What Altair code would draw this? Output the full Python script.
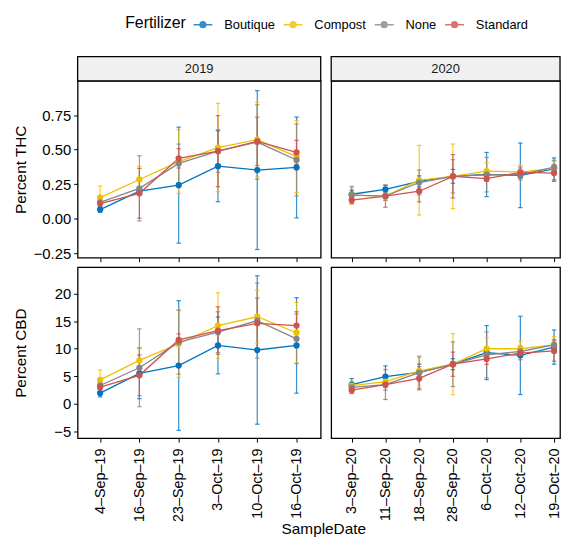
import altair as alt
import pandas as pd

FONT = "Liberation Sans"

fertilizers = ["Boutique", "Compost", "None", "Standard"]
fert_colors = ["#0073C2", "#EFC000", "#868686", "#CD534C"]
years = ["2019", "2020"]
dates_2019 = ["4–Sep–19", "16–Sep–19", "23–Sep–19", "3–Oct–19", "10–Oct–19", "16–Oct–19"]
dates_2020 = ["3–Sep–20", "11–Sep–20", "18–Sep–20", "28–Sep–20", "6–Oct–20", "12–Oct–20", "19–Oct–20"]

thc_2019_mean = {
    "Boutique": [0.066, 0.20, 0.243, 0.38, 0.352, 0.371],
    "Compost": [0.153, 0.284, 0.413, 0.515, 0.572, 0.449],
    "None": [0.118, 0.22, 0.40, 0.49, 0.555, 0.425],
    "Standard": [0.11, 0.184, 0.437, 0.489, 0.56, 0.48],
}
thc_2019_err = {
    "Boutique": [0.02, 0.03, 0.42, 0.257, 0.575, 0.365],
    "Compost": [0.083, 0.094, 0.23, 0.32, 0.27, 0.26],
    "None": [0.03, 0.236, 0.14, 0.154, 0.27, 0.26],
    "Standard": [0.03, 0.18, 0.07, 0.257, 0.175, 0.087],
}
thc_2020_mean = {
    "Boutique": [0.177, 0.213, 0.27, 0.307, 0.32, 0.314, 0.36],
    "Compost": [0.17, 0.163, 0.279, 0.307, 0.345, 0.338, 0.365],
    "None": [0.17, 0.163, 0.262, 0.307, 0.319, 0.32, 0.373],
    "Standard": [0.135, 0.163, 0.199, 0.307, 0.29, 0.335, 0.33],
}
thc_2020_err = {
    "Boutique": [0.03, 0.03, 0.04, 0.05, 0.16, 0.234, 0.08],
    "Compost": [0.065, 0.03, 0.252, 0.234, 0.06, 0.05, 0.05],
    "None": [0.06, 0.03, 0.09, 0.12, 0.125, 0.04, 0.05],
    "Standard": [0.02, 0.08, 0.077, 0.157, 0.02, 0.04, 0.06],
}
cbd_2019_mean = {
    "Boutique": [1.97, 5.54, 6.96, 10.6, 9.77, 10.6],
    "Compost": [4.35, 7.9, 10.9, 14.2, 15.8, 12.9],
    "None": [3.34, 6.55, 11.2, 13.0, 15.1, 11.8],
    "Standard": [3.04, 5.18, 11.6, 13.3, 14.6, 14.2],
}
cbd_2019_err = {
    "Boutique": [0.7, 4.6, 11.75, 5.15, 13.45, 8.65],
    "Compost": [1.8, 2.2, 6.1, 5.95, 4.8, 5.5],
    "None": [0.5, 7.05, 5.8, 3.7, 6.8, 4.5],
    "Standard": [0.9, 3.7, 1.1, 4.3, 4.6, 2.5],
}
cbd_2020_mean = {
    "Boutique": [3.5, 4.95, 5.7, 7.2, 9.3, 8.8, 10.3],
    "Compost": [3.3, 4.05, 6.0, 7.2, 10.0, 10.0, 10.7],
    "None": [3.0, 3.5, 5.67, 7.2, 8.9, 9.5, 10.7],
    "Standard": [2.5, 3.5, 4.65, 7.2, 8.16, 9.2, 9.6],
}
cbd_2020_err = {
    "Boutique": [1.1, 1.95, 1.5, 1.0, 4.9, 7.1, 3.1],
    "Compost": [0.8, 1.0, 2.7, 5.55, 2.0, 1.4, 1.5],
    "None": [0.6, 1.0, 2.85, 4.05, 4.15, 1.0, 1.0],
    "Standard": [0.6, 2.7, 2.1, 2.2, 1.0, 1.2, 1.85],
}

thc_ticks = [-0.25, 0.0, 0.25, 0.50, 0.75]
cbd_ticks = [-5, 0, 5, 10, 15, 20]


def make_df(dates, means, errs):
    rows = []
    for f in fertilizers:
        for i, d in enumerate(dates):
            m = means[f][i]
            e = errs[f][i]
            rows.append({"SampleDate": d, "idx": i, "Fertilizer": f,
                         "value": m, "lo": m - e, "hi": m + e})
    return pd.DataFrame(rows)


color_scale = alt.Scale(domain=fertilizers, range=fert_colors)
LEG_PATH = "M-1,0H1M-0.3,0A0.3,0.3,0,1,1,0.3,0A0.3,0.3,0,1,1,-0.3,0Z"
legend = alt.Legend(title="Fertilizer", orient="none", direction="horizontal",
                    titleOrient="left", legendX=48, legendY=-67.5,
                    symbolType=LEG_PATH, symbolSize=361, symbolStrokeWidth=1.5,
                    labelFontSize=13, titleFontSize=16, labelOffset=11,
                    columnPadding=5, titleFont=FONT, labelFont=FONT,
                    titleFontWeight="normal", titlePadding=6,
                    labelColor="black", titleColor="black")


def panel(df, dates, xrange, width, height, ydomain, yticks, yfmt, ytitle,
          first_col, bottom, strip_label):
    if bottom:
        xaxis = alt.Axis(labelAngle=270, labelAlign="right", labelBaseline="middle",
                         labelPadding=6, labelOverlap=False, domain=False, title=None,
                         labelFontSize=14.5)
    else:
        xaxis = alt.Axis(labels=False, domain=False, title=None)
    if first_col:
        yaxis = alt.Axis(values=yticks, format=yfmt, title=ytitle, domain=False,
                         titleX=-52.6, titleY=height / 2, titleAngle=270,
                         titleBaseline="alphabetic", titleAlign="center")
    else:
        yaxis = None
    xs = alt.Scale(type="point", range=xrange, padding=0)
    ys = alt.Scale(domain=ydomain, nice=False, zero=False)
    x = alt.X("SampleDate:N", sort=dates, scale=xs, axis=xaxis)
    stroke = alt.Stroke("Fertilizer:N", scale=color_scale, legend=legend)
    fill = alt.Fill("Fertilizer:N", scale=color_scale, legend=legend)
    base = alt.Chart(df)
    rules = base.mark_rule(strokeWidth=1.2, opacity=0.8).encode(
        x=x, y=alt.Y("lo:Q", scale=ys, axis=yaxis), y2="hi:Q", stroke=stroke)
    cap_lo = base.mark_tick(size=4.5, thickness=1.2, opacity=0.8).encode(
        x=x, y=alt.Y("lo:Q", scale=ys, axis=yaxis), fill=fill)
    cap_hi = base.mark_tick(size=4.5, thickness=1.2, opacity=0.8).encode(
        x=x, y=alt.Y("hi:Q", scale=ys, axis=yaxis), fill=fill)
    line = base.mark_line(strokeWidth=1.3).encode(
        x=x, y=alt.Y("value:Q", scale=ys, axis=yaxis), stroke=stroke, order="idx:Q")
    pts = base.mark_point(filled=True, size=40, opacity=1).encode(
        x=x, y=alt.Y("value:Q", scale=ys, axis=yaxis), fill=fill)
    layers = [rules, cap_lo, cap_hi, line, pts]
    if strip_label is not None:
        sdf = pd.DataFrame({"year": [strip_label]})
        srect = alt.Chart(sdf).mark_rect(fill="#F0F0F0", stroke="black", strokeWidth=1.3).encode(
            x=alt.value(0), x2=alt.value(width), y=alt.value(-24.5), y2=alt.value(0))
        stext = alt.Chart(sdf).mark_text(fontSize=13, font=FONT, color="#1a1a1a",
                                         baseline="middle", align="center").encode(
            x=alt.value(width / 2), y=alt.value(-12), text="year:N")
        layers = [srect, stext] + layers
    return alt.layer(*layers).properties(width=width, height=height)


W19, W20 = 245.4, 231
H_THC, H_CBD = 178.5, 172.7
THC_DOM = [-0.282, 0.998]
CBD_DOM = [-6.2, 24.8]
XR19 = [22.7, 221]
XR20 = [20.7, 225]

thc19 = panel(make_df(dates_2019, thc_2019_mean, thc_2019_err), dates_2019, XR19, W19, H_THC,
              THC_DOM, thc_ticks, ".2f", "Percent THC", True, False, years[0])
thc20 = panel(make_df(dates_2020, thc_2020_mean, thc_2020_err), dates_2020, XR20, W20, H_THC,
              THC_DOM, thc_ticks, ".2f", "Percent THC", False, False, years[1])
cbd19 = panel(make_df(dates_2019, cbd_2019_mean, cbd_2019_err), dates_2019, XR19, W19, H_CBD,
              CBD_DOM, cbd_ticks, "d", "Percent CBD", True, True, None)
cbd20 = panel(make_df(dates_2020, cbd_2020_mean, cbd_2020_err), dates_2020, XR20, W20, H_CBD,
              CBD_DOM, cbd_ticks, "d", "Percent CBD", False, True, None)

col19 = alt.vconcat(thc19, cbd19, spacing=3).resolve_scale(x="independent", y="independent")
col20 = alt.vconcat(thc20, cbd20, spacing=3).resolve_scale(x="independent", y="independent")
chart = alt.hconcat(col19, col20, spacing=7).resolve_scale(x="independent", y="independent")

chart = chart.properties(
    title=alt.TitleParams("SampleDate", orient="bottom", anchor="middle", fontSize=15.5,
                          fontWeight="normal", font=FONT, color="black", offset=0, dx=37),
    padding={"left": 4.3, "top": 3, "right": 0, "bottom": 0}
).configure(font=FONT).configure_view(
    stroke="black", strokeWidth=1.3
).configure_axis(
    grid=False, tickColor="black", tickWidth=1, tickSize=4,
    labelColor="black", labelFont=FONT, labelFontSize=15, labelPadding=3,
    titleColor="black", titleFont=FONT, titleFontSize=15.5, titleFontWeight="normal"
)

chart.save("out.html", embed_options={"renderer": "svg", "actions": False})
